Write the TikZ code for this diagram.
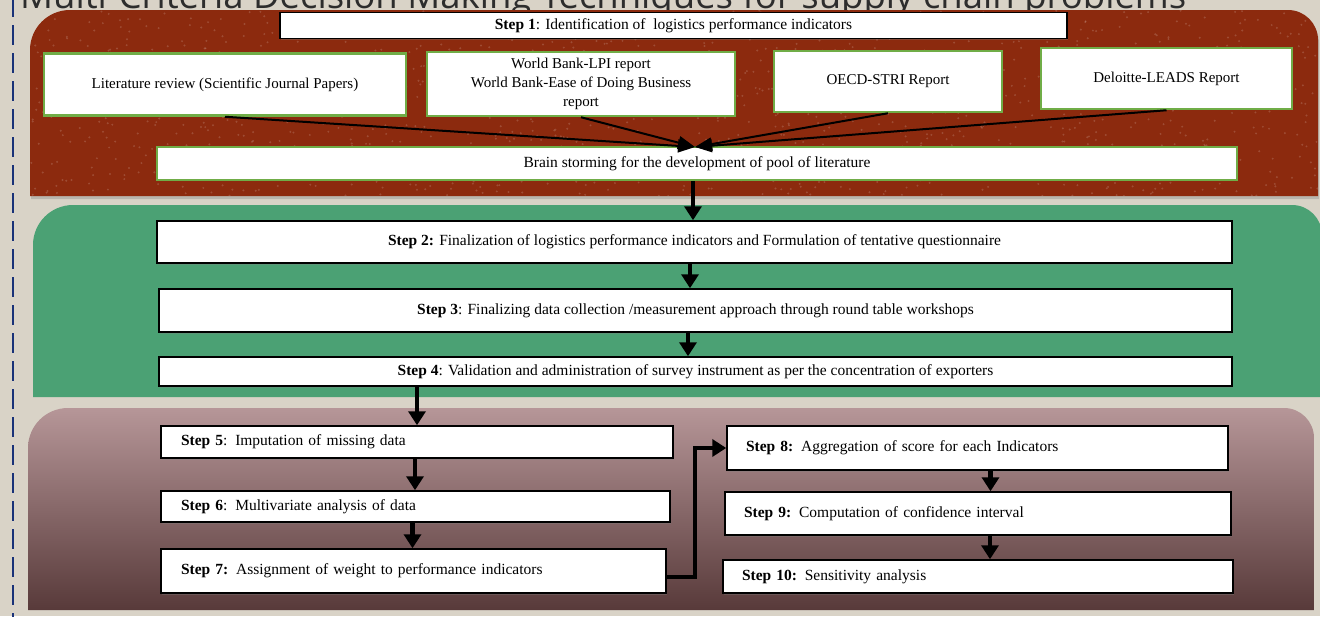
\documentclass[tikz,border=0pt]{standalone}
\usepackage{fontspec}
\setmainfont{Liberation Serif}
\newfontfamily\titlefont{Open Sans}
\usetikzlibrary{arrows.meta,shadows,calc}
\definecolor{bgc}{RGB}{217,211,199}
\definecolor{redp}{RGB}{140,42,14}
\definecolor{greenp}{RGB}{75,161,116}
\definecolor{mtop}{RGB}{182,150,152}
\definecolor{mbot}{RGB}{88,58,58}
\definecolor{gborder}{RGB}{112,173,71}
\definecolor{navy}{RGB}{25,50,120}
\definecolor{titlec}{RGB}{45,45,45}
\begin{document}
\begin{tikzpicture}[x=1pt,y=-1pt,
 stepbox/.style={draw=black, line width=1.5pt, fill=white, inner sep=0pt,
   font=\fontsize{15.5}{18}\selectfont,
   drop shadow={opacity=0.35, shadow xshift=1pt, shadow yshift=-1.5pt}},
 leftbox/.style={stepbox, align=left, inner xsep=20pt},
 srcbox/.style={draw=gborder, line width=2.5pt, fill=white, inner sep=0pt,
   align=center, font=\fontsize{15}{19}\selectfont},
 bigarrow/.style={line width=4.5pt, -{Triangle[width=17pt,length=14pt]}},
 conv/.style={line width=2pt, -{Triangle[width=13pt,length=17pt]}},
]
\clip (0,0) rectangle (1320,616);
\fill[bgc] (0,0) rectangle (1320,616);
\draw[navy, line width=2.2pt, dash pattern=on 20pt off 8pt] (13,-3) -- (13,620);

% title (cut off at the top, as in the reference)
\node[anchor=base west, font=\titlefont\fontsize{36.5}{36.5}\selectfont, text=titlec, inner sep=0pt]
  (title) at (20,8) {Multi-Criteria Decision Making Techniques for supply chain problems};

% red panel
\fill[redp, drop shadow={opacity=0.35, shadow xshift=1pt, shadow yshift=-3pt}]
  (30,196) [rounded corners=40pt] -- (30,10) [rounded corners=30pt] -- (1318,10) [sharp corners] -- (1318,196) -- cycle;
\begin{scope}
  \clip (30,196) [rounded corners=40pt] -- (30,10) [rounded corners=30pt] -- (1318,10) [sharp corners] -- (1318,196) -- cycle;
  \pgfmathsetseed{7}
  \foreach \i in {1,...,1400} {
    \pgfmathsetmacro\xx{30+rnd*1290}
    \pgfmathsetmacro\yy{10+rnd*186}
    \fill[white, opacity=0.16] (\xx,\yy) circle (1.1pt);
  }
\end{scope}

% green panel
\fill[greenp] (33,397) [rounded corners=40pt] -- (33,205) [rounded corners=30pt] -- (1322,205) [sharp corners] -- (1322,397) -- cycle;

% mauve panel
\shade[top color=mtop, bottom color=mbot]
  (28,610) [rounded corners=40pt] -- (28,408) [rounded corners=30pt] -- (1314,408) [sharp corners] -- (1314,610) -- cycle;

% step 1 and sources
\node[stepbox, minimum width=787pt, minimum height=26pt] (s1) at (673.5,25.5)
  {\textbf{Step 1}: Identification of\ \ logistics performance indicators};
\node[srcbox, minimum width=362pt, minimum height=62pt] (src1) at (225,84.5)
  {Literature review (Scientific Journal Papers)};
\node[srcbox, minimum width=308pt, minimum height=64pt] (src2) at (581,84)
  {World Bank-LPI report\\World Bank-Ease of Doing Business\\report};
\node[srcbox, minimum width=228pt, minimum height=61pt] (src3) at (888,81.5)
  {OECD-STRI Report};
\node[srcbox, minimum width=251pt, minimum height=61pt] (src4) at (1166.5,78.5)
  {Deloitte-LEADS Report};
\node[srcbox, minimum width=1080pt, minimum height=33pt, font=\fontsize{15.5}{18}\selectfont] (bs) at (697,163.5)
  {Brain storming for the development of pool of literature};
\coordinate (meet) at (695,147);
\foreach \s in {src1,src2,src3,src4} { \draw[conv] (\s.south) -- (meet); }

% steps 2-4
\node[stepbox, minimum width=1075pt, minimum height=42pt] (s2) at (694.5,242)
  {\textbf{Step 2:} Finalization of logistics performance indicators and Formulation of tentative questionnaire};
\node[stepbox, minimum width=1073pt, minimum height=43pt] (s3) at (695.5,310.5)
  {\textbf{Step 3}: Finalizing data collection /measurement approach through round table workshops};
\node[stepbox, minimum width=1073pt, minimum height=29pt] (s4) at (695.5,371.5)
  {\textbf{Step 4}: Validation and administration of survey instrument as per the concentration of exporters};

% steps 5-7
\node[leftbox, text width=472pt, minimum height=32pt] (s5) at (417,442)
  {\textbf{Step 5}: Imputation of missing data};
\node[leftbox, text width=469pt, minimum height=31pt] (s6) at (415.5,506.5)
  {\textbf{Step 6}: Multivariate analysis of data};
\node[leftbox, text width=465pt, minimum height=44pt] (s7) at (413.5,571)
  {\textbf{Step 7:} Assignment of weight to performance indicators};

% steps 8-10
\node[leftbox, text width=463pt, inner xsep=19pt, minimum height=44pt] (s8) at (977.5,448)
  {\textbf{Step 8:} Aggregation of score for each Indicators};
\node[leftbox, text width=468pt, inner xsep=19pt, minimum height=43pt] (s9) at (978,513.5)
  {\textbf{Step 9:} Computation of confidence interval};
\node[leftbox, text width=472pt, inner xsep=19pt, minimum height=33pt] (s10) at (978,576.5)
  {\textbf{Step 10:} Sensitivity analysis};

% arrows
\draw[bigarrow] ([xshift=-4pt]bs.south) -- ([xshift=-4pt]bs.south |- s2.north);
\draw[bigarrow] ([xshift=-4.5pt]s2.south) -- ([xshift=-4.5pt]s2.south |- s3.north);
\draw[bigarrow] ([xshift=-7.5pt]s3.south) -- ([xshift=-7.5pt]s3.south |- s4.north);
\draw[bigarrow] (s4.south -| s5.north) -- (s5.north);
\draw[bigarrow] ([xshift=-2pt]s5.south) -- ([xshift=-2pt]s5.south |- s6.north);
\draw[bigarrow] ([xshift=-3pt]s6.south) -- ([xshift=-3pt]s6.south |- s7.north);
\draw[bigarrow] ([yshift=-6pt]s7.east) -- ++(28,0) |- (s8.west);
\draw[bigarrow] ([xshift=13pt]s8.south) -- ([xshift=13pt]s8.south |- s9.north);
\draw[bigarrow] ([xshift=12pt]s9.south) -- ([xshift=12pt]s9.south |- s10.north);
\end{tikzpicture}
\end{document}
